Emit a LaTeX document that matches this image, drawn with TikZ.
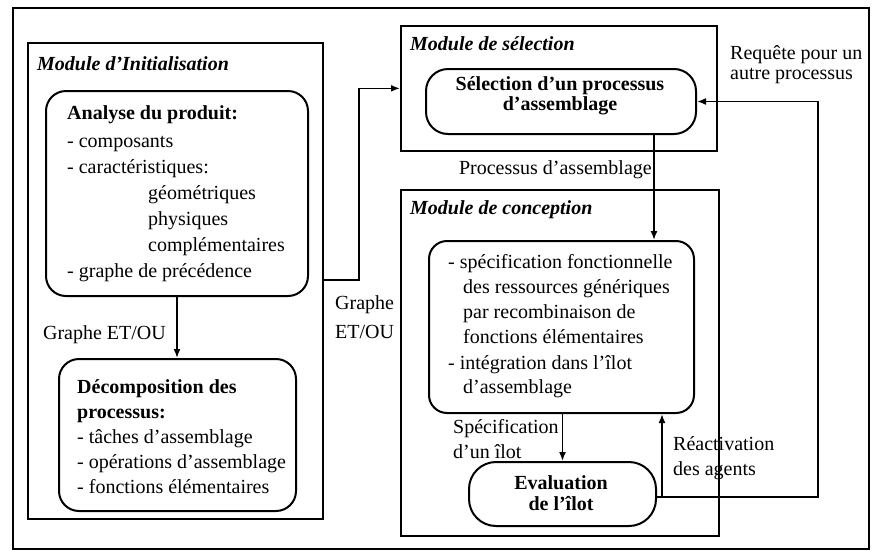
\documentclass[tikz,border=0pt]{standalone}
\usepackage{fontspec}
\setmainfont{Liberation Serif}
\usetikzlibrary{arrows.meta}

\tikzset{
  frame/.style={draw, line width=1.7pt, rectangle, inner sep=0pt, anchor=north west},
  procbox/.style={draw, line width=2pt, rectangle, rounded corners=20pt, inner sep=0pt, anchor=north west},
  arrowlink/.style={line width=1.7pt, -{Latex[length=9pt,width=7pt]}},
  title/.style={inner sep=0pt, anchor=base west, font=\fontsize{20}{24}\selectfont\bfseries\itshape},
  txt/.style={inner sep=0pt, anchor=base west, font=\fontsize{20}{24}\selectfont},
  btxt/.style={inner sep=0pt, anchor=base west, font=\fontsize{20}{24}\selectfont\bfseries},
  ctxt/.style={inner sep=0pt, anchor=base, font=\fontsize{20}{24}\selectfont\bfseries},
}

\begin{document}
\begin{tikzpicture}[x=1pt, y=-1pt]
\useasboundingbox (0,0) rectangle (879,555);

% outer frame
\node[frame, minimum width=856pt, minimum height=541pt] (outer) at (12,7) {};

% ---- initialisation module ----
\node[frame, minimum width=295pt, minimum height=476pt] (initmod) at (27,42) {};
\node[title] (tinit) at (37,70) {Module d'Initialisation};

\node[procbox, minimum width=262pt, minimum height=205pt] (analyse) at (45,90) {};
\node[btxt] (a1) at (67,119) {Analyse du produit:};
\node[txt] (a2) at (67,147) {- composants};
\node[txt] (a3) at (67,173) {- caractéristiques:};
\node[txt] (a4) at (148,199) {géométriques};
\node[txt] (a5) at (148,225) {physiques};
\node[txt] (a6) at (148,251) {complémentaires};
\node[txt] (a7) at (67,277) {- graphe de précédence};

\node[procbox, minimum width=237pt, minimum height=152pt] (decomp) at (58,358) {};
\node[btxt] (d1) at (77,393) {Décomposition des};
\node[btxt] (d2) at (77,418) {processus:};
\node[txt] (d3) at (77,443) {- tâches d'assemblage};
\node[txt] (d4) at (77,468) {- opérations d'assemblage};
\node[txt] (d5) at (77,493) {- fonctions élémentaires};

\draw[arrowlink] (analyse.south) -- (analyse.south |- decomp.north);
\node[txt, anchor=base east] (lgr1) at (166,339) {Graphe ET/OU};

% ---- selection module ----
\node[frame, minimum width=316pt, minimum height=125pt] (selmod) at (400,25) {};
\node[title] (tsel) at (410,50) {Module de sélection};
\node[procbox, rounded corners=22pt, minimum width=270pt, minimum height=65pt] (selbox) at (425,68) {};
\node[ctxt] (s1) at (560,90) {Sélection d'un processus};
\node[ctxt] (s2) at (560,110) {d'assemblage};

% ---- conception module ----
\node[frame, minimum width=318pt, minimum height=346pt] (concmod) at (400,189) {};
\node[title] (tconc) at (410,214) {Module de conception};
\node[procbox, rounded corners=18pt, minimum width=265pt, minimum height=172pt] (concbox) at (428,240) {};
\node[txt] (c1) at (448,268) {- spécification fonctionnelle};
\node[txt] (c2) at (463,293) {des ressources génériques};
\node[txt] (c3) at (463,318) {par recombinaison de};
\node[txt] (c4) at (463,343) {fonctions élémentaires};
\node[txt] (c5) at (448,369) {- intégration dans l'îlot};
\node[txt] (c6) at (463,393) {d'assemblage};

\node[procbox, rounded corners=27pt, minimum width=187pt, minimum height=64pt] (eval) at (468,461) {};
\node[ctxt] (e1) at (561,489) {Evaluation};
\node[ctxt] (e2) at (561,510) {de l'îlot};

% ---- connectors ----
\coordinate (gj) at (359,280);
\draw[arrowlink] (initmod.east |- gj) -- (gj) |- (selmod.west);
\node[txt] (lgr2) at (335,309) {Graphe};
\node[txt] (lgr3) at (335,338) {ET/OU};

\coordinate (pa) at (654,150);
\draw[arrowlink] (selbox.south -| pa) -- (concbox.north -| pa);
\node[txt, anchor=base east] (lpa) at (652,174) {Processus d'assemblage};

\draw[arrowlink] (eval.north |- concbox.south) -- (eval.north);
\node[txt] (lsp1) at (453,433) {Spécification};
\node[txt] (lsp2) at (453,458) {d'un îlot};

\coordinate (fbr) at (818,497);
\coordinate (fbj) at (662,497);
\draw[arrowlink] (eval.east |- fbr) -- (fbr) |- (selbox.east);
\draw[arrowlink] (fbj) -- (fbj |- concbox.south);
\node[txt] (lre1) at (673,450) {Réactivation};
\node[txt] (lre2) at (673,475) {des agents};

\node[txt] (lrq1) at (730,59) {Requête pour un};
\node[txt] (lrq2) at (730,79) {autre processus};
\end{tikzpicture}
\end{document}
